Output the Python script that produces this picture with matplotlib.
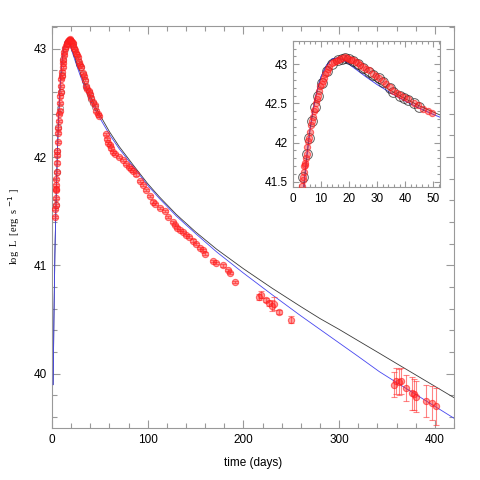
import matplotlib
matplotlib.use("Agg")
import matplotlib.pyplot as plt
from matplotlib.ticker import MultipleLocator, FormatStrFormatter

# ---- model curves ----
t_model = [1.2, 2, 3, 4, 5, 6, 7, 8, 9, 10, 12, 14, 16, 18, 20, 23, 26, 30, 35, 40,
           45, 50, 60, 70, 85, 100, 112, 130, 150, 172, 200, 230, 260, 280, 300,
           320, 342, 360, 380, 400, 420]
L_blue = [39.90, 40.50, 41.10, 41.50, 41.85, 42.15, 42.38, 42.57, 42.72, 42.84,
          42.99, 43.07, 43.08, 43.05, 43.00, 42.92, 42.84, 42.74, 42.63, 42.53,
          42.44, 42.36, 42.21, 42.08, 41.91, 41.74, 41.62, 41.455, 41.295, 41.125,
          40.93, 40.73, 40.535, 40.41, 40.285, 40.16, 40.02, 39.92, 39.81, 39.70, 39.59]
L_black = [39.90, 40.50, 41.10, 41.50, 41.85, 42.15, 42.38, 42.57, 42.72, 42.84,
           42.99, 43.07, 43.08, 43.06, 43.02, 42.94, 42.87, 42.77, 42.66, 42.56,
           42.47, 42.39, 42.235, 42.10, 41.925, 41.755, 41.635, 41.47, 41.31, 41.15,
           40.97, 40.79, 40.62, 40.51, 40.41, 40.305, 40.19, 40.095, 39.99, 39.885, 39.78]

# ---- observed data (red) ----
t_obs = [3.3, 3.5, 3.7, 3.9, 4.0, 4.2, 4.3, 4.6, 4.9, 5.1, 5.4, 5.7, 6.0, 6.3, 6.7,
         7.0, 7.4, 7.9, 8.2, 8.6, 8.9, 9.3, 9.7, 10.2, 10.6, 11.0, 11.5, 12.0, 12.5,
         13.0, 13.8, 14.5, 15.2, 16.0, 16.8, 17.5, 18.6, 19.3, 20.0, 20.8, 21.5,
         22.3, 23.0, 24.0, 25.0, 26.0, 27.0, 28.6, 29.5, 30.5, 32.0, 33.0, 34.5,
         35.7, 37.0, 38.2, 39.4, 41.0, 43.0, 44.5, 46.4, 48.0, 49.5,
         56.5, 57.5, 59, 60.5, 62, 64, 66, 70, 74, 77, 80, 83, 85, 88, 92, 95, 98,
         102, 105.6, 108, 113, 117.7, 121, 126, 128, 131, 134, 136.7, 140, 143,
         147, 150, 155, 157.6, 159.7, 168, 171.5, 178.5, 183.6, 186, 191.7,
         216.7, 218, 223.6, 227, 230, 232, 237.5, 249.6,
         357, 359, 362.5, 365, 369.5, 376, 378, 380, 391, 397, 400.7]
L_obs = [41.45, 41.52, 41.56, 41.62, 41.70, 41.74, 41.71, 41.80, 41.86, 41.95, 42.02,
         42.06, 42.14, 42.22, 42.27, 42.33, 42.40, 42.43, 42.50, 42.56, 42.60, 42.66,
         42.72, 42.75, 42.79, 42.83, 42.87, 42.90, 42.94, 42.97, 43.01, 43.03, 43.04,
         43.05, 43.07, 43.08, 43.09, 43.08, 43.07, 43.06, 43.05, 43.03, 43.01, 42.99,
         42.96, 42.94, 42.92, 42.88, 42.85, 42.83, 42.78, 42.75, 42.71, 42.66, 42.63,
         42.61, 42.58, 42.55, 42.51, 42.48, 42.43, 42.40, 42.38,
         42.21, 42.17, 42.13, 42.11, 42.08, 42.05, 42.03, 42.00, 41.97, 41.94, 41.91,
         41.89, 41.87, 41.84, 41.78, 41.74, 41.70, 41.64, 41.59, 41.57, 41.53, 41.50,
         41.45, 41.40, 41.37, 41.35, 41.33, 41.31, 41.28, 41.26, 41.23, 41.20, 41.16,
         41.14, 41.11, 41.04, 41.02, 41.00, 40.96, 40.93, 40.85,
         40.71, 40.73, 40.68, 40.65, 40.63, 40.645, 40.57, 40.50,
         39.90, 39.93, 39.92, 39.93, 39.87, 39.82, 39.81, 39.79, 39.75, 39.73, 39.70]
err_obs = [0.01] * 104 + [0.03, 0.03, 0.02, 0.02, 0.05, 0.06, 0.02, 0.035,
                          0.115, 0.12, 0.12, 0.12, 0.12, 0.15, 0.14, 0.14, 0.15, 0.16, 0.17]

# ---- second data set (black open circles) ----
t_circ = [3.7, 4.9, 5.7, 6.7, 7.9, 8.9, 10.2, 12.0, 13.8, 16.0, 17.5, 18.6, 20.0,
          21.5, 23.0, 25.0, 27.0, 28.6, 30.5, 32.0, 34.5, 35.7, 38.2, 39.4, 41.0,
          43.0, 45.0]
L_circ = [41.56, 41.86, 42.06, 42.28, 42.45, 42.60, 42.76, 42.91, 43.00, 43.05,
          43.07, 43.08, 43.07, 43.04, 43.00, 42.95, 42.90, 42.86, 42.83, 42.77,
          42.70, 42.65, 42.60, 42.57, 42.54, 42.50, 42.46]

red_face = (1.0, 0.15, 0.15, 0.45)
red_edge = (1.0, 0.1, 0.1, 0.6)
blue_c = "#4646f0"
black_c = "#3a3a3a"
spine_c = "#999999"
tick_font = "Liberation Sans"

fig = plt.figure(figsize=(4.8, 4.8), dpi=100)
ax = fig.add_axes([52/480, 52/480, 402/480, 402/480])


def style(a, xmaj, xmin, ymaj, ymin, fs):
    for s in a.spines.values():
        s.set_color(spine_c)
        s.set_linewidth(0.8)
    a.xaxis.set_major_locator(MultipleLocator(xmaj))
    a.xaxis.set_minor_locator(MultipleLocator(xmin))
    a.yaxis.set_major_locator(MultipleLocator(ymaj))
    a.yaxis.set_minor_locator(MultipleLocator(ymin))
    a.xaxis.set_major_formatter(FormatStrFormatter("%g"))
    a.yaxis.set_major_formatter(FormatStrFormatter("%g"))
    a.tick_params(which="both", direction="in", top=True, right=True,
                  color=spine_c, width=0.8, labelsize=fs, pad=4)
    a.tick_params(which="major", length=6)
    a.tick_params(which="minor", length=3.5)
    for lab in a.get_xticklabels() + a.get_yticklabels():
        lab.set_fontfamily(tick_font)


ax.plot(t_model, L_black, color=black_c, lw=0.6, zorder=2)
ax.plot(t_model, L_blue, color=blue_c, lw=0.6, zorder=3)
ax.errorbar(t_obs, L_obs, yerr=err_obs, fmt="o", ms=4.5, mfc=red_face, mec=red_edge,
            mew=0.8, ecolor=(1, 0.2, 0.2, 0.6), elinewidth=0.8, capsize=2, zorder=4)
ax.plot(t_circ, L_circ, "o", ms=4.5, mfc="none", mec=(0.1, 0.1, 0.1, 0.45), mew=0.6, zorder=3)
ax.set_xlim(0, 420)
ax.set_ylim(39.5, 43.21)
style(ax, 100, 20, 1, 0.2, 8.5)
ax.set_xlabel("time (days)", fontsize=8.5, fontfamily=tick_font, labelpad=8)
ax.set_ylabel("log  L  [erg  s $^{-1}$ ]", fontsize=7.5, fontfamily="Liberation Serif", labelpad=8)

# ---- inset ----
axi = fig.add_axes([293/480, (480-187.3)/480, 147/480, 146.6/480])
axi.plot(t_model, L_black, color=black_c, lw=0.6, zorder=2)
axi.plot(t_model, L_blue, color=blue_c, lw=0.7, zorder=3)
axi.plot(t_circ, L_circ, "o", ms=7, mfc="none", mec=(0.1, 0.1, 0.1, 0.7), mew=0.7, zorder=4)
axi.plot(t_obs, L_obs, "o", ms=4.5, mfc=red_face, mec=red_edge, mew=0.8, zorder=5)
axi.set_xlim(0, 52.4)
axi.set_ylim(41.43, 43.30)
style(axi, 10, 2, 0.5, 0.1, 8.5)
axi.tick_params(which="major", length=4)
axi.tick_params(which="minor", length=2.5)

fig.savefig("out.png", dpi=100)
